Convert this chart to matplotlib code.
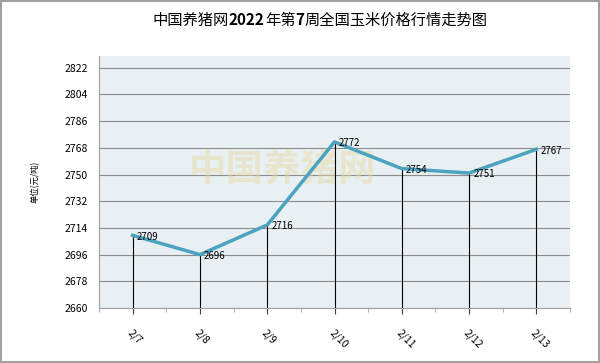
import matplotlib
matplotlib.use("Agg")
import matplotlib.pyplot as plt
from matplotlib.patches import Rectangle

plt.rcParams['font.family'] = ['Noto Sans CJK SC', 'DejaVu Sans']

dates = ["2/7", "2/8", "2/9", "2/10", "2/11", "2/12", "2/13"]
prices = [2709, 2696, 2716, 2772, 2754, 2751, 2767]
yticks = [2660, 2678, 2696, 2714, 2732, 2750, 2768, 2786, 2804, 2822]
title_parts = [("中国养猪网", 'normal'), ("2022", 'bold'), ("年第", 'normal'),
               ("7", 'bold'), ("周全国玉米价格行情走势图", 'normal')]

fig = plt.figure(figsize=(6, 3.63), dpi=100)
fig.patch.set_facecolor('white')
fig.add_artist(Rectangle((0.002, 0.003), 0.996, 0.994, transform=fig.transFigure,
                         fill=False, edgecolor='#a0a0a0', linewidth=1.5))

ax = fig.add_axes([0.165, 0.1515, 0.785, 0.6945])
ax.set_facecolor('#e9f0f4')
x = list(range(len(dates)))
ax.set_xlim(-0.5, len(dates) - 0.5)
ax.set_ylim(2660, 2830)
ax.set_yticks(yticks)
ax.yaxis.grid(True, color='#8c8c8c', linewidth=0.8)
ax.set_axisbelow(True)
for s in ['top', 'right']:
    ax.spines[s].set_visible(False)
ax.spines['left'].set_color('#a0a0a0')
ax.spines['bottom'].set_color('#a0a0a0')

# watermark
ax.text(0.39, 0.55, "中国养猪网", transform=ax.transAxes, fontsize=27, fontweight='bold',
        color='#e8d9a0', alpha=0.45, ha='center', va='center', zorder=1)

ax.vlines(x, 2660, prices, color='black', linewidth=0.8, zorder=2)
ax.plot(x, prices, color='#4ba3bf', linewidth=2.5, zorder=3)
for xi, p in zip(x, prices):
    ax.annotate(str(p), (xi, p), xytext=(3, -1), textcoords='offset points',
                fontsize=7, ha='left', va='center', zorder=4)

ax.set_xticks(x)
ax.set_xticklabels(dates, rotation=-45, ha='left', rotation_mode='anchor', fontsize=7.5)
ax.set_xticks([i - 0.5 for i in range(len(dates) + 1)], minor=True)
ax.tick_params(axis='x', which='major', length=4, color='#404040', pad=10)
ax.tick_params(axis='x', which='minor', length=3, color='#a0a0a0')
ax.tick_params(axis='y', length=0, labelsize=7.5, pad=8)

ax.set_ylabel("单位(元/吨)", fontsize=6, labelpad=18)

# title with mixed weights, centered around x=320px
renderer = fig.canvas.get_renderer()
texts = []
for s, w in title_parts:
    t = fig.text(0, 0.944, s, fontsize=11, fontweight=w, ha='left', va='center')
    texts.append(t)
widths = [t.get_window_extent(renderer).width for t in texts]
total = sum(widths)
xpix = 320 - total / 2
for t, w in zip(texts, widths):
    t.set_x(xpix / 600)
    xpix += w

fig.savefig("out.png", dpi=100)
